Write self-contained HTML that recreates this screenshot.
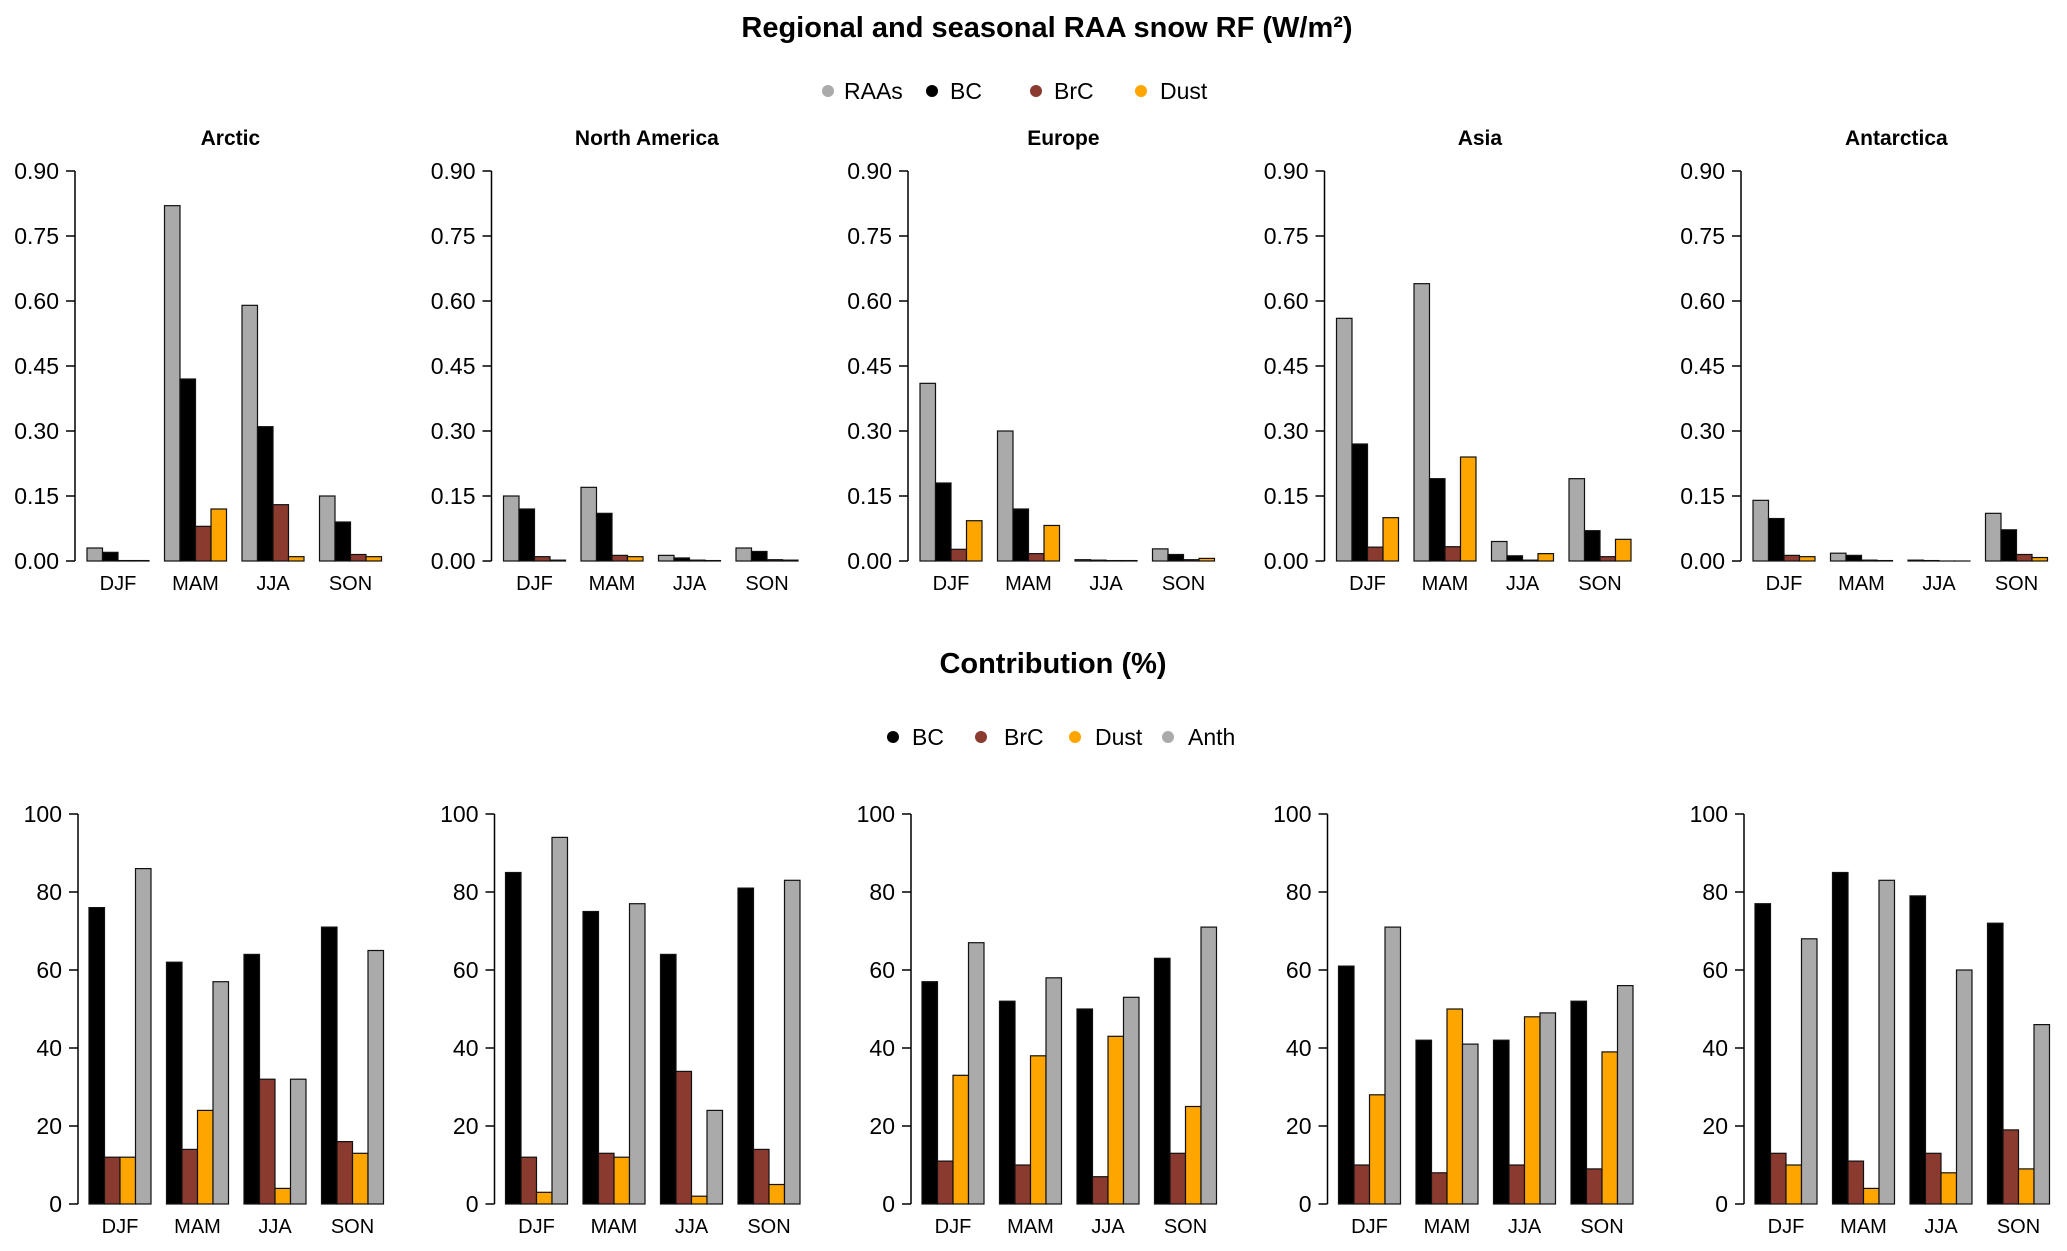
<!DOCTYPE html>
<html><head><meta charset="utf-8"><style>
body{margin:0;background:#fff;}
svg{display:block;font-family:"Liberation Sans",Arial,sans-serif;}
</style></head><body>
<svg id="chart" width="2067" height="1251" viewBox="0 0 2067 1251" xmlns="http://www.w3.org/2000/svg">
<text x="1047" y="37" font-size="29" font-weight="bold" text-anchor="middle">Regional and seasonal RAA snow RF (W/m²)</text>
<g font-size="23">
<circle cx="828" cy="91" r="6" fill="#aaaaaa"/><text x="844" y="99">RAAs</text>
<circle cx="932" cy="91" r="6" fill="#000"/><text x="950" y="99">BC</text>
<circle cx="1036" cy="91" r="6" fill="#8b3a2f"/><text x="1054" y="99">BrC</text>
<circle cx="1141" cy="91" r="6" fill="#ffa500"/><text x="1160" y="99">Dust</text>
</g>
<text x="1053" y="673" font-size="29" font-weight="bold" text-anchor="middle">Contribution (%)</text>
<g font-size="23">
<circle cx="893" cy="737" r="6" fill="#000"/><text x="912" y="745">BC</text>
<circle cx="981" cy="737" r="6" fill="#8b3a2f"/><text x="1004" y="745">BrC</text>
<circle cx="1075" cy="737" r="6" fill="#ffa500"/><text x="1095" y="745">Dust</text>
<circle cx="1168" cy="737" r="6" fill="#aaaaaa"/><text x="1188" y="745">Anth</text>
</g>
</svg>
<script>
const regions = ["Arctic","North America","Europe","Asia","Antarctica"];
const seasons = ["DJF","MAM","JJA","SON"];
const topTicks = ["0.00","0.15","0.30","0.45","0.60","0.75","0.90"];
const botTicks = ["0","20","40","60","80","100"];
const rfRAAs = [[0.03,0.82,0.59,0.15],[0.15,0.17,0.013,0.03],[0.41,0.30,0.003,0.028],[0.56,0.64,0.045,0.19],[0.14,0.018,0.002,0.11]];
const rfBC   = [[0.02,0.42,0.31,0.09],[0.12,0.11,0.007,0.022],[0.18,0.12,0.002,0.015],[0.27,0.19,0.012,0.07],[0.098,0.013,0.001,0.072]];
const rfBrC  = [[0.001,0.08,0.13,0.015],[0.01,0.013,0.002,0.003],[0.027,0.017,0.001,0.003],[0.032,0.033,0.002,0.01],[0.013,0.002,0,0.015]];
const rfDust = [[0.001,0.12,0.01,0.01],[0.002,0.01,0.001,0.002],[0.093,0.082,0.001,0.006],[0.10,0.24,0.017,0.05],[0.01,0.001,0,0.008]];
const pcBC   = [[76,62,64,71],[85,75,64,81],[57,52,50,63],[61,42,42,52],[77,85,79,72]];
const pcBrC  = [[12,14,32,16],[12,13,34,14],[11,10,7,13],[10,8,10,9],[13,11,13,19]];
const pcDust = [[12,24,4,13],[3,12,2,5],[33,38,43,25],[28,50,48,39],[10,4,8,9]];
const pcAnth = [[86,57,32,65],[94,77,24,83],[67,58,53,71],[71,41,49,56],[68,83,60,46]];

const NS="http://www.w3.org/2000/svg";
const svg=document.getElementById('chart');
function mk(tag,attrs,parent){const e=document.createElementNS(NS,tag);for(const k in attrs)e.setAttribute(k,attrs[k]);(parent||svg).appendChild(e);return e;}
const PANEL_DX=416.5, BW=15.5, GS=77.5;

function panel(r, cfg){
  const ax=cfg.axisX+r*PANEL_DX;
  const g=mk('g',{});
  
  
  const yS=v=>cfg.y0-(v/cfg.max)*(cfg.y0-cfg.yTop);
  const al=mk('line',{x1:ax,x2:ax,y1:cfg.y0,y2:cfg.yTop,stroke:'#000','stroke-width':1.5},g);
  
  
  cfg.ticks.forEach(t=>{
    const y=yS(parseFloat(t));
    mk('line',{x1:ax-9,x2:ax,y1:y,y2:y,stroke:'#000','stroke-width':1.5},g);
    const tx=mk('text',{x:ax-16,y:y+8,'font-size':23,'text-anchor':'end'},g);
    
    
    tx.textContent=t;
  });
  if(cfg.title){
    const tt=mk('text',{x:ax+12+GS*2-BW*0.75,y:145,'font-size':21,'font-weight':'bold','text-anchor':'middle'},g);
    
    
    tt.textContent=regions[r];
  }
  seasons.forEach((s,si)=>{
    const gx=ax+cfg.off+si*GS;
    cfg.series.forEach((ser,k)=>{
      const v=ser[r][si];
      const y=yS(v);
      const b=mk('rect',{x:gx+k*BW,y:y,width:BW,height:Math.max(cfg.y0-y,0.01),fill:cfg.colors[k],stroke:'#111','stroke-width':1.2},g);
      
      
    });
    const lb=mk('text',{x:gx+2*BW,y:cfg.labelY,'font-size':20,'text-anchor':'middle'},g);
    
    
    lb.textContent=s;
  });
}
for(let r=0;r<5;r++){
  panel(r,{prefix:'rf',axisX:75,off:12,y0:561,yTop:171,max:0.9,ticks:topTicks,title:true,labelY:590,
    series:[rfRAAs,rfBC,rfBrC,rfDust],colors:['#aaaaaa','#000000','#8b3a2f','#ffa500'],names:['raas','bc','brc','dust']});
  panel(r,{prefix:'pct',axisX:78,off:11,y0:1204,yTop:814,max:100,ticks:botTicks,title:false,labelY:1233,
    series:[pcBC,pcBrC,pcDust,pcAnth],colors:['#000000','#8b3a2f','#ffa500','#aaaaaa'],names:['bc','brc','dust','anth']});
}
</script>
</body></html>
